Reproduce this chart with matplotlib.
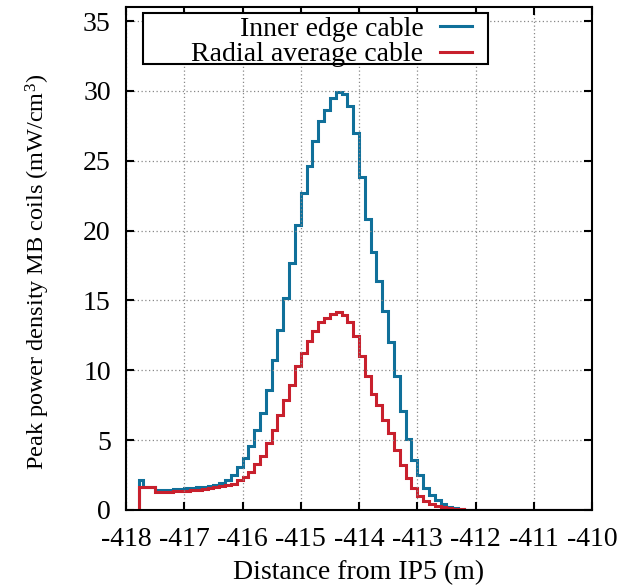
import numpy as np
import matplotlib
matplotlib.use("Agg")
import matplotlib.pyplot as plt
from matplotlib.patches import Rectangle

plt.rcParams['font.family'] = ['Liberation Serif', 'DejaVu Serif']
plt.rcParams['mathtext.fontset'] = 'custom'
plt.rcParams['mathtext.rm'] = 'Liberation Serif'
plt.rcParams['mathtext.default'] = 'regular'
plt.rcParams['axes.unicode_minus'] = False

# bin edges (m), first bin is shorter, the rest are 0.1 m wide
x_edges = [-417.78] + list(np.round(np.arange(-417.7, -409.95, 0.1), 1))

inner_edge = [2.15, 1.67, 1.67, 1.43, 1.44, 1.46, 1.48, 1.51, 1.54, 1.58,
              1.62, 1.67, 1.73, 1.80, 1.95, 2.15, 2.51, 3.1, 3.7, 4.6,
              5.73, 6.93, 8.6, 10.75, 12.9, 15.17, 17.68, 20.43, 22.7, 24.6,
              26.4, 27.84, 28.6, 29.5, 29.9, 29.75, 28.9, 27.0, 23.85, 20.8,
              18.45, 16.37, 14.27, 12.0, 9.56, 7.05, 5.07, 3.58, 2.51, 1.6,
              1.1, 0.72, 0.42, 0.24, 0.12, 0.06, 0.03, 0.01,
              0, 0, 0, 0, 0, 0, 0, 0, 0, 0, 0, 0, 0, 0, 0, 0, 0, 0, 0, 0]

radial_avg = [1.62, 1.62, 1.62, 1.31, 1.31, 1.32, 1.33, 1.35, 1.38, 1.42,
              1.46, 1.51, 1.56, 1.62, 1.69, 1.77, 1.86, 2.15, 2.39, 2.7,
              3.3, 3.87, 4.78, 5.73, 6.81, 7.84, 8.96, 10.3, 11.23, 12.07,
              12.8, 13.43, 13.74, 14.03, 14.15, 13.95, 13.45, 12.43, 11.0, 9.56,
              8.3, 7.53, 6.45, 5.5, 4.3, 3.23, 2.27, 1.55, 1.0, 0.67,
              0.43, 0.29, 0.19, 0.12, 0.07, 0.04, 0.02, 0.01,
              0, 0, 0, 0, 0, 0, 0, 0, 0, 0, 0, 0, 0, 0, 0, 0, 0, 0, 0, 0]

labels = ["Inner edge cable", "Radial average cable"]
colors = ["#10709a", "#c8202d"]

x_ticks = [-418, -417, -416, -415, -414, -413, -412, -411, -410]
y_ticks = [0, 5, 10, 15, 20, 25, 30, 35]

fig = plt.figure(figsize=(6.32, 5.86), dpi=100)
ax = fig.add_axes([0.1994, 0.1297, 0.7373, 0.8583])

ax.stairs(inner_edge, x_edges, baseline=0, color=colors[0], lw=2.2, label=labels[0])
ax.stairs(radial_avg, x_edges, baseline=0, color=colors[1], lw=2.2, label=labels[1])

ax.set_xlim(-418, -410)
ax.set_ylim(0, 36)
ax.set_xticks(x_ticks)
ax.set_yticks(y_ticks)
ax.grid(True, color='#888888', linestyle=(0, (1, 2)), lw=0.9)
ax.tick_params(direction='in', length=6, width=1.5, top=True, right=True,
               labelsize=20)
ax.tick_params(axis='x', pad=12)
ax.tick_params(axis='y', pad=11)
for s in ax.spines.values():
    s.set_linewidth(1.5)

ax.set_xlabel("Distance from IP5 (m)", fontsize=20, labelpad=6)
ax.set_ylabel("Peak power density MB coils (mW/cm$^{3}$)", fontsize=17.5)
ax.yaxis.set_label_coords(-0.159, 0.473)

# gnuplot style key: wide white box, text right-aligned, sample on the right
ax.add_patch(Rectangle((0.0365, 0.8867), 0.7403, 0.1013, transform=ax.transAxes,
                       facecolor='white', edgecolor='black', lw=1.5, zorder=4.5))
leg = ax.legend(loc='upper right', bbox_to_anchor=(0.7425, 0.981), borderaxespad=0,
                markerfirst=False, frameon=False, fontsize=20, handlelength=1.15,
                handletextpad=0.6, borderpad=0, labelspacing=0.0)
for t in leg.get_texts():
    t.set_ha('right')

plt.savefig("out.png", dpi=100)
